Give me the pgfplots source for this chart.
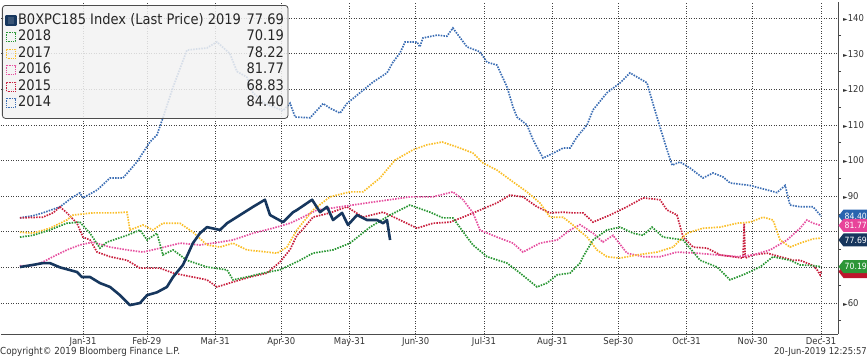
\documentclass[border=0pt]{standalone}
\usepackage{fontspec}
\setmainfont{DejaVu Sans}[FakeStretch=0.9]
\newfontfamily\dejavu{DejaVu Sans}
\usepackage{pgfplots}
\pgfplotsset{compat=1.18}
\usetikzlibrary{calc}

\definecolor{c2019}{RGB}{23,55,94}
\definecolor{c2018}{RGB}{40,150,50}
\definecolor{c2017}{RGB}{250,190,40}
\definecolor{c2016}{RGB}{230,80,160}
\definecolor{c2015}{RGB}{200,30,60}
\definecolor{c2014}{RGB}{60,110,180}
\definecolor{f2014}{RGB}{40,100,175}
\definecolor{f2016}{RGB}{232,68,154}
\definecolor{f2019}{RGB}{23,54,93}
\definecolor{f2018}{RGB}{46,150,55}
\definecolor{f2015}{RGB}{190,20,45}

\newcommand{\tri}{{\dejavu\fontsize{6}{6}\selectfont ►}}

\pgfplotsset{
  dotline/.style={line width=1.7pt, dash pattern=on 1.5pt off 1.2pt},
  dotleg/.style={legend image code/.code={\draw[#1, solid, line width=0.7pt, dash pattern=on 0.9pt off 0.9pt, sharp corners] (0pt,-4.5pt) rectangle (9pt,4.5pt);}},
}

\newcommand{\flagshape}[2]{%
  \fill[#2] (#1) ++(0.5pt,0) -- ++(5pt,6.5pt) -- ++(40pt,0) -- ++(0,-13pt) -- ++(-40pt,0) -- cycle;
}
\newcommand{\flag}[3]{%
  \flagshape{#1}{#2}
  \node[anchor=west, text=white, font=\fontsize{8.6}{9}\selectfont, inner sep=0pt, xshift=6.5pt] at (#1) {#3};
}

\begin{document}
\begin{tikzpicture}
\begin{axis}[
  scale only axis, width=837pt, height=332pt,
  xmin=-6.2, xmax=373.7, ymin=51.3, ymax=144.5,
  axis x line*=bottom, axis y line*=right,
  axis line style={-, black!70, line width=1pt},
  xtick={31,60,91,121,152,182,213,244,274,305,335,366},
  xticklabels={Jan-31,Feb-29,Mar-31,Apr-30,May-31,Jun-30,Jul-31,Aug-31,Sep-30,Oct-31,Nov-30,Dec-31},
  ytick={60,70,...,140},
  yticklabels={\tri60,{},{},\tri90,\tri100,\tri110,\tri120,\tri130,\tri140},
  minor ytick={55,65,...,145},
  grid=major,
  grid style={black!75, line width=0.6pt, dash pattern=on 0.9pt off 1.6pt},
  tick align=outside,
  xtick style={black!75, line width=0.6pt, dash pattern=on 0.9pt off 1.6pt},
  x tick label style={font=\fontsize{9.4}{10}\selectfont, text=black!80, inner sep=1pt, yshift=3pt},
  y tick label style={font=\fontsize{9.4}{10}\selectfont, text=black!80, anchor=west, inner sep=0pt, xshift=0pt},
  major tick length=5pt, minor tick length=3pt,
  ytick style={black!75, line width=0.8pt},
  major y tick style={draw=none},
  clip=false,
  reverse legend,
  legend cell align=left,
  legend style={
    at={(0,1)}, anchor=north west, xshift=1pt, yshift=-3pt,
    fill=black!5, fill opacity=0.85, text opacity=1, draw=black!70, line width=0.8pt,
    rounded corners=3pt,
    font=\fontsize{14.5}{15}\selectfont,
    inner xsep=3pt, inner ysep=7pt,
    nodes={inner sep=1pt, text height=11pt, text depth=3.5pt, text=black!85},
    /tikz/every even column/.append style={column sep=2pt},
  },
]

% 2014
\addplot[c2014, dotline, dotleg=c2014] coordinates {
(2.4,83.9) (8.3,84.5) (12.8,85.3) (20.6,87) (26.5,89.8) (29.6,90.9) (31,89.5) (37.4,91.7)
(43.3,95.1) (49.2,95.1) (55.5,99.6) (61.4,105.2) (64.6,107.2) (67.3,112) (71.9,120.6)
(78.2,131) (87.3,131.6) (91.8,133.3) (97.7,130) (100.9,125) (105.4,123.4) (108.2,119)
(113.6,116) (121.8,114) (125,116.1) (127.3,112.2) (134.1,112) (140,116) (143.1,114.7)
(147.7,113.3) (150.8,116) (156.7,119) (162.6,122) (169,124.6) (171.7,127.6) (174.9,130.2)
(177.2,133.3) (182.6,133.3) (183.9,131.9) (185.3,134.4) (191.7,135.2) (196.2,134.9)
(198.9,137.2) (205.3,131.9) (211.2,130.5) (214.4,127.6) (218.9,126.8) (223.5,120.6)
(226.2,115) (228,112.2) (232.5,110) (235.3,105.8) (239.8,100.7) (244.3,102) (248.9,103.5)
(252.1,103.5) (255.2,106.6) (259.8,110) (262.5,114.2) (268.8,119) (274.8,121.8)
(279.3,124.6) (287,121.8) (289.7,116) (292.9,109.4) (296.1,103) (298.4,98.7) (302,99.6)
(306.5,97.9) (312.4,95.1) (317,96.5) (321.5,95.4) (324.7,93.7) (333.8,93) (346,91)
(349.7,93) (351.9,87.5) (356.5,87) (362.4,87) (366,84.4)
};
\addlegendentry{\hbox to 266pt{2014\hfill 84.40}}

% 2015
\addplot[c2015, dotline, dotleg=c2015] coordinates {
(2.4,83.9) (12.8,84.1) (17.4,85.3) (20.6,87) (23.7,85.3) (28.3,82.4) (31,78.5) (34.2,77.7)
(37.4,74.3) (43.3,73) (51,72) (56.9,69.8) (66,69.8) (71.9,68.4) (80.9,67.3) (87.3,66.5)
(91.8,64.5) (99.1,65.9) (106.8,67.3) (114.5,68.4) (120.4,71.5) (125,75) (128.1,79)
(130.5,80.5) (135.4,84.1) (143.1,85.3) (150.8,87) (158.1,84.1) (167.2,85.5) (174.9,83.3)
(182.6,81) (189.9,82.4) (197.6,82.7) (203.5,84.1) (211.2,86.1) (218.9,88.1) (224.8,90.3)
(230.7,89.8) (237.1,87) (243,85.3) (248.9,85.5) (253.4,85.3) (258,85.3) (262.5,82.7)
(270.2,84.7) (277.9,87) (285.2,89.5) (292.9,89) (296.1,86.1) (300.6,84.7) (303.4,78.5)
(307.9,75.7) (314.3,75.4) (320.2,73.5) (326.1,73) (330.6,72.6) (331.1,82.4) (331.6,72.6)
(335.1,73.5) (341.5,74) (347.4,73) (353.3,72) (356.5,72) (362.4,70.5) (364.2,69.3)
(365.6,67.9) (366,68.83)
};
\addlegendentry{\hbox to 266pt{2015\hfill 68.83}}

% 2016
\addplot[c2016, dotline, dotleg=c2016] coordinates {
(2.4,70.5) (8.3,70.5) (12.8,71.5) (17.4,73) (23.7,74.9) (29.6,76.3) (35.5,77.1) (43.3,75.7)
(51,74.9) (58.2,74.3) (66,75.4) (75,76.8) (84.1,76.3) (93.2,77.1) (99.1,77.7) (108.2,79.6)
(117.2,81) (125,82.4) (129.5,83.7) (137.2,86.1) (144.5,86.7) (159.9,88.1) (170.4,89)
(179.4,89.8) (189.9,89.8) (198.9,91.2) (203.5,89) (208,85.3) (211.2,80.5) (218.9,78.5)
(226.2,76.8) (230.7,74.3) (238.4,76.8) (246.2,77.7) (252.1,80.5) (256.6,82) (262.5,79.6)
(267,77.1) (271.6,79) (277.9,74) (285.2,73) (292.9,73) (300.6,74.3) (309.7,74) (318.8,73.5)
(327.9,73) (335.1,73.5) (342.9,74.9) (350.6,77.7) (356.5,81) (359.6,83.3) (362.4,82.4)
(366,81.77)
};
\addlegendentry{\hbox to 266pt{2016\hfill 81.77}}

% 2017
\addplot[c2017, dotline, dotleg=c2017] coordinates {
(2.4,79.9) (8.3,79.6) (16,81) (23.7,83.3) (26.5,84.7) (35.5,85.3) (44.6,85.3) (51,85.5)
(52.3,80.5) (58.2,81.9) (62.8,80.5) (67.3,82.4) (75,82.4) (80.9,79.9) (87.3,76.3)
(93.2,75.7) (99.1,76.8) (105.4,74.9) (114.5,74.3) (119.1,74) (123.6,75.7) (128.1,80.5)
(135.4,86.1) (143.1,89.8) (152.2,91.2) (158.1,91.2) (165.8,95.1) (172.6,100.1) (180.8,103)
(187.1,104.4) (194,105.2) (200.8,103.8) (208,102.1) (212.6,99.3) (218.9,97.3) (226.2,94)
(232.5,91.2) (238.4,88.1) (243,84.1) (248.9,84.1) (253.4,81.9) (259.8,78.5) (264.3,74.9)
(268.8,73) (274.8,72.6) (282.5,73.5) (291.6,74.3) (298.8,75.7) (305.2,79.6) (312.4,81)
(320.2,81.3) (327.9,82.4) (333.8,82.7) (339.7,84.1) (344.2,83.3) (347.4,77.7) (351.9,75.7)
(356.5,76.8) (362.4,78) (366,78.22)
};
\addlegendentry{\hbox to 266pt{2017\hfill 78.22}}

% 2018
\addplot[c2018, dotline, dotleg=c2018] coordinates {
(2.4,78.5) (8.3,79) (16,80.5) (23.7,82.4) (29.6,82.7) (34.2,79.6) (38.7,75.4) (41.9,77.1)
(51,79) (56.9,80.5) (60.1,77.7) (64.6,79.6) (67.3,73.5) (71.9,74.9) (78.2,72) (87.3,70.1)
(96.4,69.3) (99.1,66.5) (105.4,67.3) (112.7,68.4) (120.4,69.3) (129.5,72) (135.4,74)
(144.5,74.9) (152.2,76.8) (161.3,81.3) (170.4,84.7) (179.4,87.5) (188.5,85.5) (194.4,83.9)
(198.9,83.9) (205.3,78.5) (208,76.3) (214.4,73) (223.5,71.2) (229.4,68.4) (237.1,64.5)
(241.6,65.6) (246.2,67.9) (252.1,68.4) (256.6,71.2) (258,73) (262.5,77.7) (268.8,80.5)
(274.8,81.3) (280.7,79.6) (285.2,79) (289.3,81.3) (294.3,78.5) (303.4,77.7) (311.1,72)
(318.8,70.1) (324.7,66.5) (330.6,67.9) (338.3,70.1) (344.2,73) (351.9,72) (356.5,70.7)
(362.4,70.5) (366,70.19)
};
\addlegendentry{\hbox to 266pt{2018\hfill 70.19}}

% 2019
\addplot[c2019, line width=2.6pt, line join=round, legend image code/.code={\fill[c2019, sharp corners] (0pt,-4.5pt) rectangle (9pt,4.5pt);}] coordinates {
(2.4,70.1) (8.3,70.7) (12.8,71.2) (16,71.2) (20.6,70) (28.3,68.7) (30.5,67.3) (34.2,67.3)
(38.7,65.6) (43.3,64.5) (47.8,62.2) (52.3,59.4) (56.9,60) (60.1,62.2) (64.6,63) (69.1,64.5)
(71.9,67.3) (76.4,70.7) (80.9,76.8) (84.1,79.6) (87.3,81.3) (93.2,80.5) (96.4,82.4)
(102.3,84.7) (108.2,87) (113.6,89) (115.9,84.7) (121.8,82.7) (126.4,85.5) (128.1,86.1)
(135,89) (138.6,85.5) (141.8,87) (144.5,83.3) (148.6,85.3) (151.3,81.9) (155.4,84.7)
(159.9,83.3) (164.5,83.3) (167.2,82.4) (169,83.3) (170.4,77.69)
};
\addlegendentry{\hbox to 266pt{B0XPC185 Index (Last Price) 2019\hfill 77.69}}

\coordinate (ll) at (rel axis cs:0,0);
\coordinate (F14) at (axis cs:373.7,84.4);
\coordinate (F16) at (axis cs:373.7,81.77);
\coordinate (F19) at (axis cs:373.7,77.69);
\coordinate (F15) at (axis cs:373.7,68.83);
\coordinate (F18) at (axis cs:373.7,70.19);
\end{axis}

\flag{F14}{f2014}{84.40}
\flag{F16}{f2016}{81.77}
\flag{F19}{f2019}{77.69}
\flagshape{F15}{f2015}
\flag{F18}{f2018}{70.19}

\node[anchor=west, font=\fontsize{9.7}{10}\selectfont, text=black!80, inner sep=0pt] at ($(ll)+(-1pt,-18pt)$) {Copyright© 2019 Bloomberg Finance L.P.};
\node[anchor=east, font=\fontsize{9.4}{10}\selectfont, text=black!80, inner sep=0pt] at ($(ll)+(866pt,-18pt)$) {20-Jun-2019 12:25:57};

\pgfresetboundingbox
\useasboundingbox ($(ll)+(-1pt,-25pt)$) rectangle ($(ll)+(866pt,334pt)$);
\end{tikzpicture}
\end{document}
